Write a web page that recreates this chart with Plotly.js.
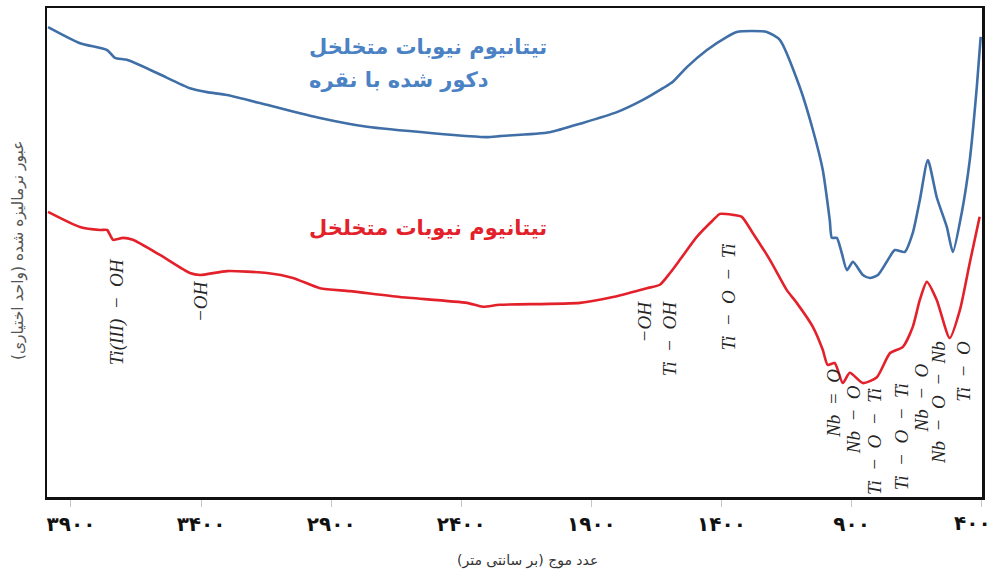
<!DOCTYPE html>
<html>
<head>
<meta charset="utf-8">
<script src="https://cdn.plot.ly/plotly-3.0.1.min.js"></script>
<style>
  html, body { margin: 0; padding: 0; background: #fff; }
  #chart { width: 994px; height: 577px; }
</style>
</head>
<body>
<div id="chart"></div>
<script>
// FTIR spectra of porous titanium niobate, bare and silver-decorated
// wavenumber (cm^-1) and normalised transmittance (arbitrary units)

const silverWavenumber = [3988, 3865, 3761, 3731, 3685, 3569, 3443, 3377, 3300, 3147, 2943, 2762, 2509, 2301, 2252, 2060, 1933, 1802, 1702, 1625, 1587, 1533, 1456, 1379, 1341, 1283, 1226, 1176, 1099, 1049, 1011, 984, 976, 957, 938, 918, 895, 857, 830, 799, 765, 734, 696, 665, 638, 607, 573, 534, 511, 477, 446, 419, 404];
const silverTransmittance = [96.1, 92.8, 91.4, 89.8, 89.4, 86.7, 83.6, 82.8, 82.2, 80.2, 77.5, 75.7, 74.4, 73.6, 73.8, 74.6, 76.5, 78.7, 81.2, 83.6, 84.9, 87.9, 91.4, 94.1, 95.1, 95.3, 95.1, 93.5, 83.8, 75.1, 66.9, 56.6, 53.0, 53.0, 49.9, 46.4, 48.1, 45.4, 44.8, 45.4, 48.1, 50.5, 50.1, 54.0, 60.7, 68.9, 61.3, 55.2, 50.1, 58.1, 68.9, 83.8, 94.1];

const bareWavenumber = [3988, 3865, 3788, 3761, 3738, 3700, 3662, 3558, 3443, 3404, 3300, 3147, 3047, 2943, 2828, 2636, 2378, 2317, 2252, 1944, 1817, 1687, 1637, 1598, 1560, 1495, 1433, 1406, 1356, 1322, 1280, 1214, 1149, 1111, 1049, 1011, 992, 965, 934, 907, 857, 803, 753, 703, 665, 638, 611, 573, 523, 484, 446, 408];
const bareTransmittance = [58.3, 55.2, 54.6, 54.6, 52.6, 53.0, 52.6, 49.5, 45.8, 45.4, 46.2, 45.8, 44.8, 42.7, 42.1, 40.9, 39.7, 38.9, 39.3, 39.7, 40.9, 42.7, 43.4, 45.8, 48.5, 53.2, 56.6, 57.9, 57.7, 57.3, 54.0, 48.5, 42.3, 39.7, 34.8, 30.1, 27.0, 27.4, 23.3, 25.4, 23.3, 24.5, 29.4, 30.7, 34.8, 40.3, 44.0, 40.3, 32.5, 38.2, 47.9, 57.3];

const tickValues = [3900, 3400, 2900, 2400, 1900, 1400, 900, 400];
const tickLabels = ['۳۹۰۰', '۳۴۰۰', '۲۹۰۰', '۲۴۰۰', '۱۹۰۰', '۱۴۰۰', '۹۰۰', '۴۰۰'];

// band assignments: wavenumber, top of the label, text
const bandWavenumber = [3722, 3400, 1645, 1374, 970, 892, 812, 708, 630, 520];
const bandTop = [49.2, 44.8, 40.5, 52.2, 26.6, 23.3, 22.7, 23.7, 27.8, 32.3];
const bandText = [
  'Ti(III)\u2002−\u2002OH',
  '−OH',
  '−OH<br>Ti\u2002−\u2002OH',
  'Ti\u2002−\u2002O\u2002−\u2002Ti',
  'Nb\u2002=\u2002O',
  'Nb\u2002−\u2002O',
  'Ti\u2002−\u2002O\u2002−\u2002Ti',
  'Ti\u2002−\u2002O\u2002−\u2002Ti',
  'Nb\u2002−\u2002O',
  'Nb\u2002−\u2002O\u2002−\u2002Nb<br>Ti\u2002−\u2002O'
];

const seriesNames = ['تیتانیوم نیوبات متخلخل دکور شده با نقره', 'تیتانیوم نیوبات متخلخل'];

const traces = [
  {
    x: silverWavenumber, y: silverTransmittance, name: seriesNames[0],
    type: 'scatter', mode: 'lines',
    line: { color: '#3f6fa6', width: 2.6, shape: 'spline', smoothing: 0.6 }
  },
  {
    x: bareWavenumber, y: bareTransmittance, name: seriesNames[1],
    type: 'scatter', mode: 'lines',
    line: { color: '#e3212b', width: 2.6, shape: 'spline', smoothing: 0.6 }
  }
];

const persianFont = '"DejaVu Sans", sans-serif';
const labelFont = { family: '"Liberation Serif", "DejaVu Serif", serif', size: 19, color: '#262626' };
const tickFont = { family: persianFont, size: 20, color: '#111', weight: 'bold' };

const annotations = bandText.map((t, i) => ({
  x: bandWavenumber[i], y: bandTop[i], xref: 'x', yref: 'y',
  text: '<i>' + t + '</i>', showarrow: false, textangle: -90,
  xanchor: 'center', yanchor: 'top', align: 'right', font: labelFont
}));

// the last tick label sits at the right edge, so it is pulled in to stay inside the page
const lastTick = tickValues.length - 1;
const axisTickText = tickLabels.map((t, i) => (i === lastTick ? '' : t));
annotations.push({
  x: tickValues[lastTick], xref: 'x', y: 0, yref: 'paper', yshift: -26,
  xanchor: 'right', yanchor: 'middle', xshift: 11,
  text: tickLabels[lastTick], showarrow: false, font: tickFont
});

// series captions
annotations.push(
  { xref: 'paper', yref: 'paper', x: 0.278, y: 0.920, xanchor: 'left', yanchor: 'middle',
    text: '<b>تیتانیوم نیوبات متخلخل</b>', showarrow: false,
    font: { family: persianFont, size: 21, color: '#4a82c4' } },
  { xref: 'paper', yref: 'paper', x: 0.278, y: 0.853, xanchor: 'left', yanchor: 'middle',
    text: '<b>دکور شده با نقره</b>', showarrow: false,
    font: { family: persianFont, size: 21, color: '#4a82c4' } },
  { xref: 'paper', yref: 'paper', x: 0.278, y: 0.551, xanchor: 'left', yanchor: 'middle',
    text: '<b>تیتانیوم نیوبات متخلخل</b>', showarrow: false,
    font: { family: persianFont, size: 21, color: '#e3212b' } },
  // axis titles
  { xref: 'paper', yref: 'paper', x: 0.514, y: -0.13, xanchor: 'center', yanchor: 'middle',
    text: 'عدد موج (بر سانتی متر)', showarrow: false,
    font: { family: persianFont, size: 14, color: '#333' } },
  { xref: 'paper', yref: 'paper', x: -0.031, y: 0.505, xanchor: 'center', yanchor: 'middle',
    text: 'عبور نرمالیزه شده (واحد اختیاری)', showarrow: false, textangle: -90,
    font: { family: persianFont, size: 15.5, color: '#555' } }
);

const layout = {
  width: 994, height: 577,
  margin: { l: 47, r: 12, t: 8, b: 80 },
  paper_bgcolor: '#fff', plot_bgcolor: '#fff',
  showlegend: false,
  xaxis: {
    range: [3992, 399],
    tickvals: tickValues, ticktext: axisTickText,
    ticks: 'outside', ticklen: 7, tickcolor: '#c8c8c8', tickwidth: 1,
    tickfont: tickFont,
    showgrid: false, zeroline: false,
    showline: true, mirror: true, linecolor: '#111', linewidth: 2.5
  },
  yaxis: {
    range: [0, 100],
    showticklabels: false, ticks: '',
    showgrid: false, zeroline: false,
    showline: true, mirror: true, linecolor: '#111', linewidth: 2.5
  },
  annotations: annotations
};

Plotly.newPlot('chart', traces, layout, { displayModeBar: false, staticPlot: true });
</script>
</body>
</html>
